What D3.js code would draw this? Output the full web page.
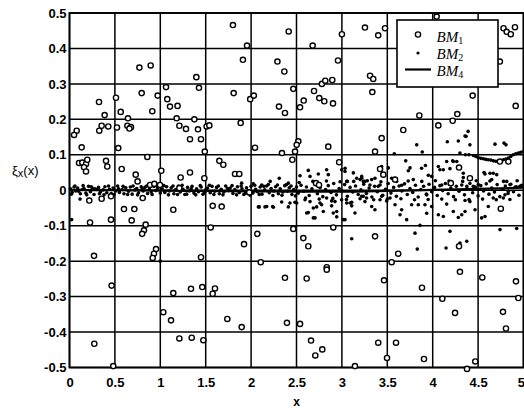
<!DOCTYPE html>
<html><head><meta charset="utf-8">
<script src="https://cdn.jsdelivr.net/npm/d3@7"></script>
<style>body{margin:0;background:#fff}svg{display:block}</style>
</head><body>
<svg id="c" width="524" height="409"></svg>
<script>
// ---- data ----
const xTicks = [0,0.5,1,1.5,2,2.5,3,3.5,4,4.5,5];
const xTickLabels = ["0","0.5","1","1.5","2","2.5","3","3.5","4","4.5","5"];
const yTicks = [0.5,0.4,0.3,0.2,0.1,0,-0.1,-0.2,-0.3,-0.4,-0.5];
const yTickLabels = ["0.5","0.4","0.3","0.2","0.1","0","-0.1","-0.2","-0.3","-0.4","-0.5"];
const seriesNames = ["BM","BM","BM"];
const seriesSubs = ["1","2","4"];

// BM1: open circles [x, y]
const bm1 = [
[0.77,0.346],[0.894,0.352],[0.795,0.274],[0.325,0.249],[0.512,0.261],[0.971,0.267],[1.063,0.291],[1.077,0.257],[1.107,0.236],[1.19,0.238],
[0.912,0.223],[0.564,0.221],[0.387,0.212],[0.644,0.203],[1.18,0.203],[0.354,0.182],[0.427,0.18],[0.328,0.168],[0.523,0.177],[0.637,0.182],
[0.677,0.178],[0.66,0.174],[0.079,0.168],[0.05,0.156],[1.21,0.182],
[1.80,0.466],[1.955,0.408],[1.91,0.368],[2.414,0.448],[2.678,0.408],[3.0,0.44],[2.957,0.366],[2.29,0.363],[2.366,0.335],[1.397,0.319],
[1.426,0.289],[1.808,0.274],[1.99,0.257],[2.03,0.267],[2.465,0.286],[2.307,0.236],[2.373,0.218],[2.539,0.234],[2.579,0.253],[2.693,0.28],
[2.751,0.26],[2.806,0.251],[2.902,0.245],[2.78,0.30],[2.817,0.309],[2.894,0.311],[1.375,0.2],[1.283,0.173],[1.415,0.172],[1.51,0.18],
[1.54,0.183],[1.885,0.19],[1.327,0.144],[1.448,0.144],
[3.254,0.459],[3.40,0.437],[3.475,0.457],[4.78,0.457],[4.815,0.447],[4.86,0.44],[4.906,0.46],[4.044,0.49],[4.74,0.363],[3.31,0.323],
[3.345,0.314],[3.335,0.277],[4.44,0.267],[4.914,0.238],[3.853,0.211],[4.271,0.215],[4.22,0.196],[4.062,0.183],[3.676,0.17],[3.438,0.147],
[0.134,0.121],[0.105,0.077],[0.141,0.078],[0.182,0.074],[0.196,0.086],[0.16,0.065],[0.182,0.053],[0.402,0.083],[0.416,0.067],[0.537,0.119],
[0.857,0.094],[0.575,0.06],[0.729,0.044],[0.75,0.025],[1.011,0.055],[0.887,0.015],[0.934,0.018],[0.997,0.015],[1.21,0.006],[0.218,-0.029],
[0.354,-0.024],[0.457,-0.017],[0.806,-0.022],[0.6,-0.053],[0.714,-0.053],[1.143,-0.055],[0.226,-0.091],[0.457,-0.083],[0.685,-0.085],[0.839,-0.097],
[0.82,-0.113],[0.80,-0.123],[0.953,-0.166],[0.93,-0.179],[0.916,-0.191],[0.27,-0.185],
[1.49,0.109],[2.043,0.12],[2.34,0.105],[2.52,0.138],[2.502,0.128],[2.484,0.109],[2.85,0.123],[2.97,0.079],[2.454,0.086],[1.65,0.083],
[1.694,0.072],[1.823,0.046],[1.87,0.046],[1.224,0.036],[1.327,0.05],[2.715,0.02],[2.748,0.015],[1.577,-0.044],[1.676,-0.046],[1.555,-0.105],
[2.465,-0.109],[2.905,-0.105],[2.068,-0.123],[1.922,-0.152],[2.575,-0.135],[2.63,-0.158],[1.448,-0.189],[2.106,-0.203],[2.833,-0.217],
[1.485,0.034],[1.98,-0.006],
[3.365,0.109],[3.42,0.06],[3.456,0.044],[3.585,0.03],[4.29,0.064],[4.2,0.02],[4.41,0.034],[4.74,0.081],[4.833,0.081],[4.75,-0.052],
[3.365,-0.13],[4.29,-0.158],[3.62,-0.179],[3.548,-0.203],
[0.464,-0.269],[0.273,-0.433],[0.482,-0.496],[1.143,-0.29],[1.033,-0.344],[1.118,-0.367],[1.21,-0.418],
[1.338,-0.278],[1.462,-0.273],[1.602,-0.277],[1.577,-0.292],[1.738,-0.363],[1.896,-0.386],[1.346,-0.416],[1.474,-0.423],[2.373,-0.247],
[2.612,-0.249],[2.833,-0.224],[2.395,-0.374],[2.539,-0.377],[2.66,-0.424],[2.784,-0.449],[2.707,-0.466],
[3.464,-0.254],[3.882,-0.275],[4.3,-0.23],[4.546,-0.246],[4.917,-0.257],[4.943,-0.304],[4.106,-0.306],[4.246,-0.346],[4.774,-0.343],[4.807,-0.39],
[3.4,-0.43],[3.596,-0.43],[3.497,-0.473],[3.904,-0.476],[4.469,-0.483],[4.378,-0.504],[3.144,-0.496]
];

// BM2: small dots [x, y]
const bm2 = [
[0.01,0.004],[0.03,-0.006],[0.05,0.009],[0.07,-0.002],[0.09,0.006],[0.12,-0.01],[0.14,0.002],[0.16,0.005],[0.18,-0.008],[0.21,0.011],
[0.23,-0.004],[0.25,0.006],[0.27,-0.012],[0.30,0.002],[0.32,0.008],[0.34,-0.005],[0.37,0.001],[0.39,0.01],[0.41,-0.007],[0.44,0.003],
[0.46,-0.009],[0.48,0.006],[0.51,-0.002],[0.53,0.012],[0.55,-0.006],[0.58,0.002],[0.60,-0.01],[0.62,0.007],[0.65,-0.003],[0.67,0.009],
[0.69,-0.011],[0.72,0.001],[0.74,0.005],[0.76,-0.007],[0.79,0.01],[0.81,-0.002],[0.83,0.008],[0.86,-0.009],[0.88,0.003],[0.90,-0.005],
[0.93,0.011],[0.95,-0.001],[0.97,0.006],[1.00,-0.008],
[0.02,-0.011],[0.06,0.012],[0.10,-0.003],[0.15,0.013],[0.19,-0.013],[0.24,0.01],[0.28,0.004],[0.33,-0.01],[0.38,-0.013],[0.43,0.012],
[0.49,-0.012],[0.54,0.004],[0.59,0.011],[0.64,-0.012],[0.70,0.012],[0.75,-0.013],[0.80,0.004],[0.85,0.012],[0.91,-0.012],[0.96,0.013],
[1.02,0.004],[1.05,-0.006],[1.07,0.01],[1.10,-0.002],[1.12,0.007],[1.15,-0.01],[1.17,0.002],[1.20,0.012],[1.22,-0.005],[1.25,0.003],
[1.27,-0.012],[1.30,0.008],[1.32,-0.002],[1.35,0.011],[1.37,-0.008],[1.40,0.004],[1.42,-0.004],[1.45,0.009],[1.47,-0.011],[1.50,0.001],
[1.52,0.006],[1.55,-0.007],[1.57,0.011],[1.60,-0.003],[1.62,0.008],[1.65,-0.01],[1.67,0.003],[1.70,-0.005],[1.72,0.012],[1.75,-0.001],
[1.77,0.006],[1.80,-0.009],[1.82,0.002],[1.85,0.01],[1.87,-0.006],[1.90,0.004],[1.92,-0.012],[1.95,0.007],[1.97,-0.002],[2.00,0.011],
[2.02,-0.008],[2.05,0.003],[2.07,-0.004],[2.10,0.009],[2.12,-0.011],[2.15,0.001],[2.17,0.012],[2.20,-0.007],[2.22,0.005],[2.25,-0.002],
[2.27,0.01],[2.30,-0.01],[2.32,0.004],[2.35,-0.005],[2.37,0.013],[2.40,-0.003],[2.42,0.007],[2.45,-0.012],[2.47,0.002],[2.50,0.009],
[1.04,0.013],[1.09,-0.013],[1.14,0.012],[1.19,-0.012],[1.24,0.014],[1.29,-0.011],[1.34,0.004],[1.39,-0.013],[1.44,0.013],[1.49,-0.006],
[1.54,0.014],[1.59,-0.012],[1.64,0.012],[1.69,-0.013],[1.74,0.005],[1.79,0.013],[1.84,-0.013],[1.89,0.012],[1.94,-0.008],[1.99,-0.014],
[2.04,0.014],[2.09,-0.012],[2.14,0.011],[2.19,0.016],[2.24,-0.015],[2.29,0.015],[2.34,-0.014],[2.39,0.016],[2.44,0.012],[2.49,-0.016],
[2.52,-0.008],[2.55,0.014],[2.58,-0.003],[2.61,0.009],[2.64,-0.015],[2.67,0.004],[2.70,0.018],[2.73,-0.01],[2.76,0.007],[2.79,-0.018],
[2.82,0.002],[2.85,0.013],[2.88,-0.006],[2.91,0.019],[2.94,-0.013],[2.97,0.005],[3.00,-0.002],[3.03,0.016],[3.06,-0.017],[3.09,0.008],
[3.12,-0.005],[3.15,0.012],[3.18,-0.012],[3.21,0.001],[3.24,0.017],[3.27,-0.009],[3.30,0.006],[3.33,-0.019],[3.36,0.011],[3.39,-0.004],
[3.42,0.015],[3.45,-0.014],[3.48,0.003],[3.51,0.019],[3.54,-0.008],[3.57,0.008],[3.60,-0.017],[3.63,0.012],[3.66,-0.002],[3.69,0.018],
[3.72,-0.012],[3.75,0.005],[3.78,-0.006],[3.81,0.014],[3.84,-0.019],[3.87,0.002],[3.90,0.011],[3.93,-0.011],[3.96,0.017],[3.99,-0.004],
[4.02,0.008],[4.05,-0.015],[4.08,0.013],[4.11,-0.001],[4.14,0.019],[4.17,-0.01],[4.20,0.006],[4.23,-0.018],[4.26,0.011],[4.29,-0.003],
[4.32,0.015],[4.35,-0.013],[4.38,0.004],[4.41,0.019],[4.44,-0.007],[4.47,0.009],[4.50,-0.016],[4.53,0.013],[4.56,-0.002],[4.59,0.018],
[4.62,-0.011],[4.65,0.006],[4.68,-0.005],[4.71,0.016],[4.74,-0.018],[4.77,0.003],[4.80,0.012],[4.83,-0.009],[4.86,0.017],[4.89,-0.004],
[4.92,0.01],[4.95,-0.014],[4.98,0.014],
[2.53,0.022],[2.6,-0.022],[2.68,0.025],[2.75,-0.025],[2.83,0.026],[2.9,-0.023],[2.98,0.024],[3.05,-0.026],[3.13,0.025],[3.2,-0.024],
[3.28,0.027],[3.35,-0.027],[3.43,0.024],[3.5,-0.025],[3.58,0.027],[3.65,-0.024],[3.73,0.026],[3.8,-0.027],[3.88,0.025],[3.95,-0.026],
[4.03,0.027],[4.1,-0.025],[4.18,0.026],[4.25,-0.027],[4.33,0.025],[4.4,-0.026],[4.48,0.027],[4.55,-0.025],[4.63,0.026],[4.7,-0.027],
[4.78,0.025],[4.85,-0.026],[4.93,0.027],
// outliers
[0.024,-0.083],[0.116,-0.025],[0.05,0.158],[1.0,-0.2],
[1.896,0.02],[2.024,0.018],[2.117,0.015],[2.21,0.025],[2.31,0.034],[2.41,0.02],
[2.09,-0.047],[2.153,-0.047],[2.238,-0.046],[2.337,-0.033],[2.428,-0.036],[2.483,-0.034],
[2.539,0.041],[2.63,0.056],[2.649,0.039],[2.74,0.046],[2.832,0.058],[2.85,0.044],[2.997,0.058],[3.035,0.062],[3.053,0.025],[3.126,0.049],
[3.163,0.034],[3.218,0.039],[3.236,0.025],
[2.502,-0.036],[2.594,-0.027],[2.63,-0.063],[2.685,-0.05],[2.704,-0.078],[2.759,-0.036],[2.795,-0.06],[2.832,-0.022],[2.887,-0.044],[2.924,-0.032],
[2.943,-0.06],[2.997,-0.027],[3.015,-0.083],[3.053,-0.036],[3.108,-0.034],[3.144,-0.064],[3.218,-0.017],[3.272,-0.022],
[2.08,-0.047],[2.172,-0.046],[2.245,-0.048],[2.41,-0.047],[2.612,-0.064],[2.685,-0.078],[2.905,-0.064],[2.943,-0.075],[3.034,-0.083],[2.722,-0.047],
[2.777,-0.041],[2.887,-0.03],[2.649,-0.032],
[3.824,0.128],[4.161,0.137],[4.282,0.139],[4.367,0.152],[4.785,0.133],[4.686,0.13],[4.807,0.128],[4.41,0.128],[4.39,0.166],[4.356,0.153],
[3.885,0.108],[3.703,0.083],[3.75,0.063],[3.731,0.055],[3.878,0.062],[3.952,0.042],[3.989,0.039],[3.786,0.03],[3.658,0.014],
[4.062,0.067],[4.08,0.058],[4.117,0.058],[4.19,0.061],[4.22,0.083],[4.265,0.081],[4.337,0.036],[4.1,0.015],[4.183,0.017],[4.375,0.011],
[4.447,0.011],[4.502,0.016],[4.576,0.046],[4.631,0.048],[4.705,0.044],[4.65,0.03],[4.815,0.025],[4.851,0.016],[4.906,0.008],[4.96,0.011],
[3.577,0.103],[3.92,0.07],[4.154,0.081],[4.227,0.081],[4.337,0.048],[4.565,0.05],[4.667,0.048],
[4.30,0.105],[4.36,0.1],[4.40,0.1],[4.447,0.098],[4.475,0.095],[4.502,0.092],[4.53,0.09],[4.557,0.089],[4.585,0.087],[4.612,0.086],[4.64,0.085],
[4.667,0.083],[4.695,0.082],[4.722,0.081],[4.75,0.083],[4.778,0.086],[4.805,0.088],[4.833,0.091],[4.86,0.095],[4.888,0.1],[4.915,0.103],
[4.943,0.105],[4.97,0.107],[4.998,0.109],
[3.218,0.034],[3.254,0.025],[3.328,0.03],[3.364,0.034],[3.42,0.058],[3.438,0.067],[3.511,0.063],[3.548,0.034],[3.603,0.025],[3.309,0.015],
[3.40,0.011],[3.034,0.053],[3.06,0.025],[3.2,0.03],
[3.236,-0.017],[3.254,-0.032],[3.328,-0.046],[3.364,-0.055],[3.42,-0.027],[3.438,-0.017],[3.53,-0.022],[3.585,-0.041],[3.64,-0.069],[3.713,-0.083],
[3.768,-0.041],[3.841,-0.041],[3.915,-0.041],[3.934,-0.065],[3.989,-0.046],[4.062,-0.069],[4.117,-0.074],[4.154,-0.039],[4.227,-0.06],[4.282,-0.077],
[4.32,-0.069],[4.356,-0.06],[4.41,-0.032],[4.466,-0.055],[4.539,-0.078],[4.576,-0.074],[4.612,-0.046],[4.667,-0.022],[4.778,-0.022],[4.796,-0.013],
[4.833,-0.003],[4.356,-0.029],[3.934,-0.013],
[3.805,-0.121],[4.19,-0.116],[3.86,-0.099],[4.3,-0.149],[4.375,-0.144],[4.741,-0.111],[4.925,-0.108],[3.108,-0.137],[3.83,-0.166],[4.147,-0.163],
[3.09,-0.036],[3.108,-0.044],[3.493,-0.03],[3.658,-0.055]
];

// BM4: line
const bm4X = [0,0.5,1,1.5,2,2.5,3,3.5,4,4.5,5];
const bm4Y = [0.001,0.0,-0.001,-0.002,-0.003,-0.004,-0.004,-0.002,0.001,0.004,0.007];

// ---- drawing ----
const svg = d3.select("#c");
const x = d3.scaleLinear().domain([0,5]).range([69.5,523.5]);
const y = d3.scaleLinear().domain([-0.5,0.5]).range([367.5,13]);
const tickFont = "'Liberation Sans', Arial, sans-serif";

// grid
const g = svg.append("g");
g.selectAll("line.vx").data(xTicks).join("line")
  .attr("x1", d=>x(d)).attr("x2", d=>x(d)).attr("y1", y(0.5)).attr("y2", y(-0.5))
  .attr("stroke","#000").attr("stroke-width",1.5);
g.selectAll("line.hy").data(yTicks).join("line")
  .attr("x1", x(0)).attr("x2", x(5)).attr("y1", d=>y(d)).attr("y2", d=>y(d))
  .attr("stroke","#000").attr("stroke-width",1.5);
g.append("rect").attr("x", x(0)).attr("y", y(0.5)).attr("width", x(5)-x(0)).attr("height", y(-0.5)-y(0.5))
  .attr("fill","none").attr("stroke","#000").attr("stroke-width",1.8);

// tick labels via d3 axes
const xAxis = d3.axisBottom(x).tickValues(xTicks).tickFormat((d,i)=>xTickLabels[i]).tickSize(0).tickPadding(10);
const ax = svg.append("g").attr("transform",`translate(0,${y(-0.5)})`).call(xAxis);
ax.select(".domain").remove();
ax.selectAll("text").attr("font-family",tickFont).attr("font-weight","bold").attr("font-size",13).attr("fill","#000");
// last label sits at the image edge: keep it inside
ax.selectAll(".tick").filter(d=>d===5).select("text").attr("text-anchor","end").attr("dx",1);

const yAxis = d3.axisLeft(y).tickValues(yTicks).tickFormat((d,i)=>yTickLabels[i]).tickSize(0).tickPadding(3);
const ay = svg.append("g").attr("transform",`translate(${x(0)},0)`).call(yAxis);
ay.select(".domain").remove();
ay.selectAll("text").attr("font-family",tickFont).attr("font-weight","bold").attr("font-size",13).attr("fill","#000");

// BM2 dots
svg.append("g").selectAll("circle").data(bm2).join("circle")
  .attr("cx", d=>x(d[0])).attr("cy", d=>y(d[1])).attr("r",1.8).attr("fill","#000");

// BM4 line
const line = d3.line().x(d=>x(d[0])).y(d=>y(d[1])).curve(d3.curveMonotoneX);
svg.append("path").datum(bm4X.map((v,i)=>[v,bm4Y[i]])).attr("d",line)
  .attr("fill","none").attr("stroke","#000").attr("stroke-width",2.2);

// BM1 circles
svg.append("g").selectAll("circle").data(bm1).join("circle")
  .attr("cx", d=>x(d[0])).attr("cy", d=>y(d[1])).attr("r",2.6)
  .attr("fill","#fff").attr("stroke","#000").attr("stroke-width",1.4);

// axis titles
const yl = svg.append("text").attr("x",12).attr("y",175).attr("font-family",tickFont).attr("font-size",13).attr("fill","#000");
yl.append("tspan").text("ξ");
yl.append("tspan").attr("font-size",11).attr("dy",2).text("x");
yl.append("tspan").attr("dy",-2).text("(x)");
svg.append("text").attr("x",x(2.5)).attr("y",406).attr("text-anchor","middle")
  .attr("font-family",tickFont).attr("font-weight","bold").attr("font-size",12).text("x");

// legend
const lg = svg.append("g");
lg.append("rect").attr("x",397).attr("y",20).attr("width",101).attr("height",67)
  .attr("fill","#fff").attr("stroke","#000").attr("stroke-width",1.6);
const rows = [0,1,2];
const rowBase = [41.5,58.5,75.5];
lg.append("circle").attr("cx",418).attr("cy",34.5).attr("r",2.6).attr("fill","#fff").attr("stroke","#000").attr("stroke-width",1.4);
lg.append("circle").attr("cx",418).attr("cy",53).attr("r",1.6).attr("fill","#000");
lg.append("line").attr("x1",405).attr("x2",431).attr("y1",69.5).attr("y2",69.5).attr("stroke","#000").attr("stroke-width",2.2);
rows.forEach(i=>{
  const t = lg.append("text").attr("x",436.5).attr("y",rowBase[i])
    .attr("font-family","'Liberation Serif', 'Times New Roman', serif").attr("font-style","italic").attr("font-size",15).attr("fill","#000");
  t.append("tspan").text(seriesNames[i]);
  t.append("tspan").attr("font-size",10).attr("font-style","normal").attr("dy",2).text(seriesSubs[i]);
});
</script>
</body></html>
